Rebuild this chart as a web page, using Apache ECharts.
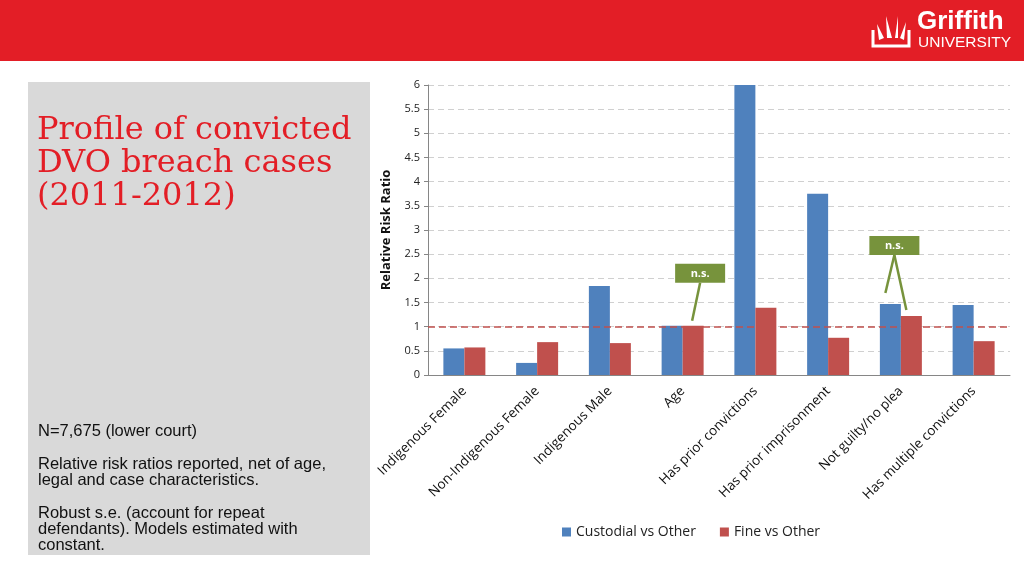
<!DOCTYPE html>
<html>
<head>
<meta charset="utf-8">
<script src="https://cdn.jsdelivr.net/npm/echarts@6/dist/echarts.min.js"></script>
<style>
html, body { margin: 0; padding: 0; background: #fff; }
#main { width: 1024px; height: 576px; }
</style>
</head>
<body>
<div id="main"></div>
<script>
// data
var categories = ['Indigenous Female', 'Non-Indigenous Female', 'Indigenous Male', 'Age',
  'Has prior convictions', 'Has prior imprisonment', 'Not guilty/no plea', 'Has multiple convictions'];
var custodial = [0.55, 0.25, 1.84, 1.02, 6.0, 3.75, 1.47, 1.45];
var fine = [0.57, 0.68, 0.66, 1.02, 1.39, 0.77, 1.22, 0.70];
var yTicks = [0, 0.5, 1, 1.5, 2, 2.5, 3, 3.5, 4, 4.5, 5, 5.5, 6];
var refLine = 1;

var red = '#E31E26';
var chart = echarts.init(document.getElementById('main'));

var option = {
  animation: false,
  grid: { left: 428, right: 14, top: 85, bottom: 201 },
  legend: {
    bottom: 32, left: 557,
    itemWidth: 9, itemHeight: 9, itemGap: 24,
    icon: 'rect',
    textStyle: { fontFamily: 'Open Sans', fontSize: 14, color: '#222' },
    data: ['Custodial vs Other', 'Fine vs Other']
  },
  xAxis: {
    type: 'category',
    data: categories,
    axisLine: { lineStyle: { color: '#868686' } },
    axisTick: { show: false },
    axisLabel: { rotate: 45, interval: 0, fontFamily: 'Open Sans', fontSize: 13.5, color: '#111', margin: 14 }
  },
  yAxis: {
    type: 'value',
    min: 0, max: 6, interval: 0.5,
    name: 'Relative Risk Ratio',
    nameLocation: 'middle', nameGap: 35,
    nameTextStyle: { fontFamily: 'Open Sans', fontWeight: 'bold', fontSize: 13, color: '#111' },
    axisLine: { show: true, lineStyle: { color: '#868686' } },
    axisTick: { show: true, length: 4, lineStyle: { color: '#868686' } },
    axisLabel: {
      fontFamily: 'Open Sans', fontSize: 11, color: '#222', margin: 8,
      formatter: function (v) { return yTicks.indexOf(v) >= 0 ? String(v) : ''; }
    },
    splitLine: { lineStyle: { color: '#d0d0d0', type: [6, 4] } }
  },
  series: [
    {
      name: 'Custodial vs Other', type: 'bar', data: custodial,
      barWidth: 21, barGap: '0%', itemStyle: { color: '#4F81BD' },
      markLine: {
        silent: true, symbol: 'none', label: { show: false },
        lineStyle: { color: '#C0504D', type: [7, 4], width: 1.5 },
        data: [{ yAxis: refLine }]
      }
    },
    {
      name: 'Fine vs Other', type: 'bar', data: fine,
      barWidth: 21, itemStyle: { color: '#C0504D' }
    }
  ],
  graphic: [
    { type: 'rect', silent: true, z: -1, shape: { x: 0, y: 0, width: 1024, height: 61 }, style: { fill: red } },
    { type: 'rect', silent: true, z: -1, shape: { x: 28, y: 82, width: 342, height: 473 }, style: { fill: '#D9D9D9' } },
    {
      type: 'text', left: 37, top: 114,
      style: { text: 'Profile of convicted\nDVO breach cases\n(2011-2012)', fill: red,
        font: '32px "DejaVu Serif"', lineHeight: 33 }
    },
    { type: 'text', left: 38, top: 423, style: { text: 'N=7,675 (lower court)', fill: '#111', font: '16.5px "Liberation Sans"' } },
    { type: 'text', left: 38, top: 456, style: { text: 'Relative risk ratios reported, net of age,\nlegal and case characteristics.', fill: '#111', font: '16.5px "Liberation Sans"', lineHeight: 16 } },
    { type: 'text', left: 38, top: 505, style: { text: 'Robust s.e. (account for repeat\ndefendants). Models estimated with\nconstant.', fill: '#111', font: '16.5px "Liberation Sans"', lineHeight: 16 } },
    // logo
    { type: 'text', left: 917, top: 9, style: { text: 'Griffith', fill: '#fff', font: 'bold 26px "Liberation Sans"' } },
    { type: 'text', left: 918, top: 35, style: { text: 'UNIVERSITY', fill: '#fff', font: '15.5px "Liberation Sans"' } },
    { type: 'polyline', shape: { points: [[873, 30], [873, 46], [891, 46], [909, 46], [909, 30]] }, style: { stroke: '#fff', lineWidth: 3, fill: null } },
    { type: 'polygon', shape: { points: [[879, 40], [877, 24], [884, 38]] }, style: { fill: '#fff' } },
    { type: 'polygon', shape: { points: [[887, 38], [886, 16], [892, 38]] }, style: { fill: '#fff' } },
    { type: 'polygon', shape: { points: [[895, 38], [898, 16], [898, 38]] }, style: { fill: '#fff' } },
    { type: 'polygon', shape: { points: [[900, 38], [906, 22], [904, 40]] }, style: { fill: '#fff' } }
  ]
};
chart.setOption(option);

// n.s. callouts, anchored to the bars through the axes
function addNs() {
  var g = [];
  var green = '#77933C';
  function bar(i, s) {
    var p = chart.convertToPixel({ seriesIndex: 0 }, [i, s === 0 ? custodial[i] : fine[i]]);
    return [p[0] + (s === 0 ? -10.5 : 10.5), p[1]];
  }
  function box(cx, cy) {
    g.push({ type: 'rect', shape: { x: cx - 25, y: cy - 10, width: 50, height: 19 }, style: { fill: green }, z: 10 });
    g.push({ type: 'text', x: cx, y: cy, z: 11, style: { text: 'n.s.', fill: '#fff', font: 'bold 11px "Open Sans"', align: 'center', verticalAlign: 'middle' } });
  }
  function line(a, b) {
    g.push({ type: 'line', z: 9, shape: { x1: a[0], y1: a[1], x2: b[0], y2: b[1] }, style: { stroke: green, lineWidth: 2.5 } });
  }
  var a = bar(3, 1);
  var c1 = [a[0] + 7, a[1] - 52];
  line([c1[0], c1[1] + 9], [a[0] - 1, a[1] - 5]);
  box(c1[0], c1[1]);
  var b0 = bar(6, 0), b1 = bar(6, 1);
  var c2 = [b0[0] + 4, b0[1] - 58];
  line([c2[0], c2[1] + 9], [b0[0] - 5, b0[1] - 11]);
  line([c2[0], c2[1] + 9], [b1[0] - 5, b1[1] - 6]);
  box(c2[0], c2[1]);
  chart.setOption({ graphic: option.graphic.concat(g) });
}
addNs();
</script>
</body>
</html>
